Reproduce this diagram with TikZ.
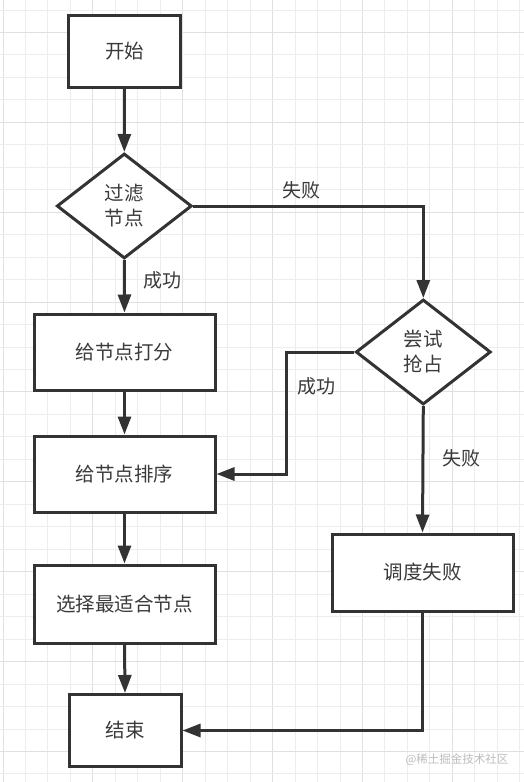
\documentclass[tikz,border=0pt]{standalone}
\usepackage{fontspec}
\newfontfamily\cjk{Noto Sans CJK SC}
\usetikzlibrary{shapes.geometric,arrows.meta}
\definecolor{ink}{HTML}{333333}
\definecolor{txt}{HTML}{3A3A3A}
\definecolor{gridminor}{HTML}{EDEDED}
\definecolor{gridmajor}{HTML}{E0E0E0}
\definecolor{wm}{HTML}{BDBDBD}
\tikzset{
  box/.style={draw=ink, line width=3pt, rectangle, inner sep=0pt, fill=white,
    font=\cjk\fontsize{19.5}{24}\selectfont, text=txt, align=center},
  dia/.style={draw=ink, line width=3pt, diamond, inner sep=0pt, fill=white,
    minimum width=135pt, minimum height=105pt,
    font=\cjk\fontsize{19.5}{25}\selectfont, text=txt, align=center},
  lab/.style={font=\cjk\fontsize{19}{23}\selectfont, text=txt},
  arr/.style={draw=ink, line width=3pt, -{Triangle[length=18pt,width=13pt]}},
  lin/.style={draw=ink, line width=3pt},
}
\begin{document}
\begin{tikzpicture}[x=1pt,y=-1pt]
\useasboundingbox (0,0) rectangle (524,782);
\fill[white] (0,0) rectangle (524,782);
% grid
\foreach \k in {0,...,23}{
  \pgfmathtruncatemacro{\m}{mod(\k,4)}
  \ifnum\m=0
    \draw[gridmajor, line width=1pt] ({3+22.47*\k},0) -- ({3+22.47*\k},782);
  \else
    \draw[gridminor, line width=1pt] ({3+22.47*\k},0) -- ({3+22.47*\k},782);
  \fi
}
\foreach \k in {0,...,34}{
  \pgfmathtruncatemacro{\m}{mod(\k,4)}
  \ifnum\m=1
    \draw[gridmajor, line width=1pt] (0,{10+22.47*\k}) -- (524,{10+22.47*\k});
  \else
    \draw[gridminor, line width=1pt] (0,{10+22.47*\k}) -- (524,{10+22.47*\k});
  \fi
}
% nodes
\node[box, minimum width=112pt, minimum height=72pt] (start) at (124.5,51.5) {开始};
\node[dia] (filter) at (124.3,206) {过滤\\节点};
\node[box, minimum width=181pt, minimum height=76pt] (score) at (124.5,352) {给节点打分};
\node[box, minimum width=181pt, minimum height=76pt] (sort) at (124.5,474) {给节点排序};
\node[box, minimum width=181pt, minimum height=78pt] (select) at (124.5,604) {选择最适合节点};
\node[box, minimum width=112pt, minimum height=72pt] (end) at (125,730.5) {结束};
\node[dia] (try) at (423.3,352) {尝试\\抢占};
\node[box, minimum width=181pt, minimum height=77pt] (fail) at (422.5,572.5) {调度失败};
\coordinate (bend) at (286,352);
% connectors
\draw[arr] (start.south) -- (filter.north);
\draw[arr] (filter.south) -- (score.north);
\draw[arr] (filter.east) -| (try.north);
\draw[arr] (score.south) -- (sort.north);
\draw[arr] (sort.south) -- (select.north);
\draw[arr] (select.south) -- (end.north);
\draw[arr] (try.south) -- (fail.north);
\draw[arr] (try.west) -- (bend) |- (sort.east);
\draw[arr] (fail.south) |- (end.east);
% labels
\node[lab] (l1) at (162,280) {成功};
\node[lab] (l2) at (301,190) {失败};
\node[lab] (l3) at (316,386) {成功};
\node[lab] (l4) at (461,458) {失败};
\node[font=\cjk\fontsize{11.5}{13}\selectfont, text=wm] (wmk) at (457,760) {@稀土掘金技术社区};
\end{tikzpicture}
\end{document}
